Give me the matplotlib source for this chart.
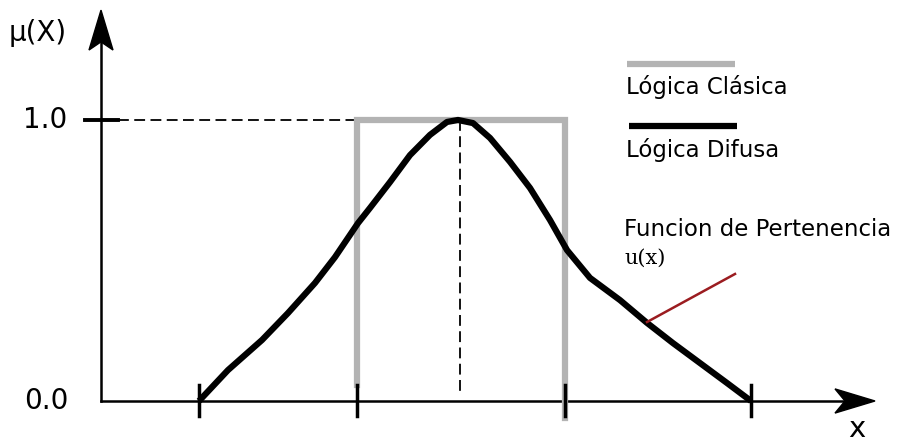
import numpy as np
import matplotlib.pyplot as plt
from matplotlib.patches import Polygon

# x in arbitrary units along the universe of discourse, y = membership degree
tick_x = [0.98, 2.56, 4.64, 6.50]
peak_x = 3.57

# crisp set (Lógica Clásica)
crisp_left, crisp_right = 2.56, 4.64

# fuzzy membership function (Lógica Difusa)
fuzzy_x = [0.98, 1.27, 1.61, 1.87, 2.14, 2.34, 2.57, 2.69, 2.89, 3.09, 3.29,
           3.46, 3.57, 3.72, 3.89, 4.09, 4.29, 4.49, 4.66, 4.89, 5.19, 5.46,
           5.72, 5.99, 6.26, 6.50]
fuzzy_y = [0.0, 0.110, 0.217, 0.313, 0.420, 0.512, 0.633, 0.687, 0.779, 0.875, 0.947,
           0.993, 1.0, 0.989, 0.936, 0.851, 0.758, 0.644, 0.537, 0.438, 0.359, 0.278,
           0.206, 0.135, 0.064, 0.0]

y_labels = ['0.0', '1.0']
grey = '#b3b3b3'

fig = plt.figure(figsize=(9, 4.43), dpi=100)
ax = fig.add_axes([0, 0, 1, 1])
ax.set_xlim(-1.01, 7.99)
ax.set_ylim(-0.1495, 1.427)
ax.axis('off')

# axes lines with arrow heads
x_end, y_end = 7.74, 1.391
ax.plot([0, x_end - 0.3], [0, 0], color='black', lw=1.8, zorder=2)
ax.plot([0, 0], [0, y_end - 0.1], color='black', lw=1.8, zorder=2)
ax.add_patch(Polygon([[x_end, 0], [x_end - 0.40, 0.043], [x_end - 0.30, 0],
                      [x_end - 0.40, -0.043]], closed=True, color='black', zorder=3))
ax.add_patch(Polygon([[0, y_end], [-0.12, y_end - 0.142], [0, y_end - 0.113],
                      [0.12, y_end - 0.142]], closed=True, color='black', zorder=3))

# crisp set
ax.plot([crisp_left, crisp_left, crisp_right, crisp_right], [0.057, 1.0, 1.0, -0.06],
        color=grey, lw=4.5, solid_joinstyle='miter', zorder=3)

# guide dashes
ax.plot([0.17, peak_x], [1.0, 1.0], color='black', lw=1.3, dashes=(6, 3), zorder=2)
ax.plot([peak_x + 0.02, peak_x + 0.02], [1.0, 0.02], color='black', lw=1.3, dashes=(6, 3), zorder=2)

# fuzzy curve
ax.plot(fuzzy_x, fuzzy_y, color='black', lw=4.5, solid_joinstyle='round',
        solid_capstyle='butt', zorder=4)

# tick marks
for tx in tick_x:
    ax.plot([tx, tx], [0.057, -0.053], color='black', lw=2.5, zorder=5)
ax.plot([-0.16, 0.17], [1.0, 1.0], color='black', lw=2.8, zorder=5)

ax.text(-0.34, 1.0, y_labels[1], fontsize=20, ha='right', va='center')
ax.text(-0.33, 0.0, y_labels[0], fontsize=20, ha='right', va='center')
ax.text(-0.92, 1.31, 'μ(X)', fontsize=20, ha='left', va='center')
ax.text(7.56, -0.10, 'x', fontsize=21, ha='center', va='center')

# legend
ax.plot([5.26, 6.34], [1.199, 1.199], color=grey, lw=4.5, solid_capstyle='butt')
ax.text(5.25, 1.117, 'Lógica Clásica', fontsize=16.5, ha='left', va='center')
ax.plot([5.28, 6.36], [0.979, 0.979], color='black', lw=4.5, solid_capstyle='butt')
ax.text(5.25, 0.893, 'Lógica Difusa', fontsize=16.5, ha='left', va='center')

# annotation
ax.text(5.23, 0.609, 'Funcion de Pertenencia', fontsize=16.5, ha='left', va='center')
ax.text(5.23, 0.509, 'u(x)', fontsize=15, ha='left', va='center', family='DejaVu Serif')
ax.plot([5.46, 6.34], [0.281, 0.452], color='#9b1c20', lw=1.8, zorder=5)

fig.savefig('out.png', dpi=100)
